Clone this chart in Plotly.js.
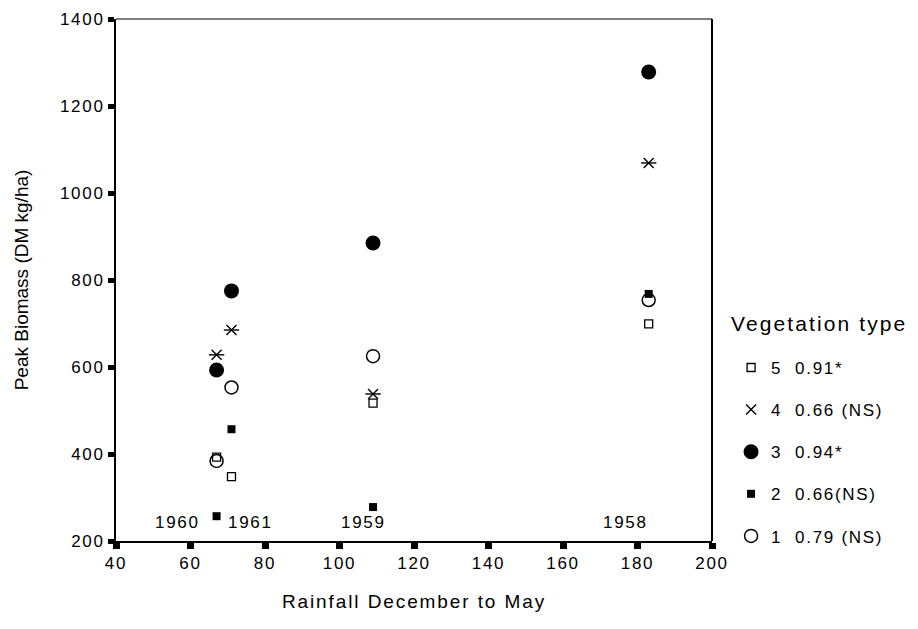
<!DOCTYPE html>
<html>
<head>
<meta charset="utf-8">
<script src="https://cdn.plot.ly/plotly-3.0.1.min.js"></script>
<style>
html,body{margin:0;padding:0;background:#fff;}
#chart{width:918px;height:629px;}
svg text{letter-spacing:0.1em;}
svg text.ytitle{letter-spacing:0;}
</style>
</head>
<body>
<div id="chart"></div>
<script>
// Rainfall (x) for each year's column
var rainfall = [67, 71, 109, 183];
var years = ["1960", "1961", "1959", "1958"];
var yearLabelX = [56.4, 76.2, 106.5, 176.7];
var yearLabelY = 242;

// Peak biomass per vegetation type, in the order of rainfall above
var veg5 = [393, 348, 517, 699];
var veg4 = [628, 685, 538, 1069];
var veg3 = [593, 775, 885, 1278];
var veg2 = [257, 457, 278, 768];
var veg1 = [384, 553, 625, 754];

var legendTitle = "Vegetation type";
var legendNames = ["5  0.91*", "4  0.66 (NS)", "3  0.94*", "2  0.66(NS)", "1  0.79 (NS)"];

var font = "Liberation Sans, Arial, Helvetica, sans-serif";

function tr(y, name, symbol, size, lw, grp, show) {
  return {
    type: "scatter", mode: "markers", x: rainfall, y: y, name: name,
    legendgroup: grp, showlegend: show,
    marker: {symbol: symbol, size: size, color: "#000", line: {color: "#000", width: lw}},
    cliponaxis: false, hoverinfo: "x+y"
  };
}

var data = [
  tr(veg5, legendNames[0], "square-open", 8, 1.3, "g5", true),
  tr(veg4, legendNames[1], "line-ew-open", 11, 1.4, "g4", false),
  tr(veg4, legendNames[1], "x-thin-open", 10, 1.4, "g4", true),
  tr(veg3, legendNames[2], "circle", 15, 0, "g3", true),
  tr(veg2, legendNames[3], "square", 8, 0, "g2", true),
  tr(veg1, legendNames[4], "circle-open", 13, 1.5, "g1", true)
];

var annotations = years.map(function (t, i) {
  return {x: yearLabelX[i], y: yearLabelY, xref: "x", yref: "y", text: t,
    showarrow: false, font: {family: font, size: 17, color: "#000"}};
});
annotations.push({
  x: 1.0285, y: (541 - 323) / 522, xref: "paper", yref: "paper", xanchor: "left", yanchor: "middle",
  text: legendTitle, showarrow: false, font: {family: font, size: 21, color: "#000"}
});

var layout = {
  width: 918, height: 629,
  margin: {l: 116, r: 206, t: 19, b: 88},
  paper_bgcolor: "#fff", plot_bgcolor: "#fff",
  showlegend: true,
  legend: {
    x: 1.032, y: 0.366, xanchor: "left", yanchor: "top",
    traceorder: "grouped", tracegroupgap: 17,
    font: {family: font, size: 17, color: "#000"},
    itemsizing: "trace"
  },
  xaxis: {
    range: [40, 200], tickvals: [40, 60, 80, 100, 120, 140, 160, 180, 200],
    showgrid: false, zeroline: false, showline: true, linewidth: 2, linecolor: "#000",
    ticks: "outside", ticklen: 6, tickwidth: 7, tickcolor: "#000",
    tickfont: {family: font, size: 17, color: "#000"},
    title: {text: "Rainfall December to May", standoff: 22, font: {family: font, size: 19, color: "#000"}}
  },
  yaxis: {
    range: [200, 1400], tickvals: [200, 400, 600, 800, 1000, 1200, 1400],
    showgrid: false, zeroline: false, showline: true, linewidth: 2, linecolor: "#000",
    ticks: "outside", ticklen: 6, tickwidth: 5, tickcolor: "#000",
    tickfont: {family: font, size: 17, color: "#000"},
    title: {text: "Peak Biomass (DM kg/ha)", standoff: 26, font: {family: font, size: 19, color: "#000"}}
  },
  shapes: [
    {type: "line", xref: "paper", yref: "paper", x0: 0, x1: 1, y0: 1, y1: 1, line: {color: "#000", width: 1}},
    {type: "line", xref: "paper", yref: "paper", x0: 1, x1: 1, y0: 0, y1: 1, line: {color: "#000", width: 2}}
  ],
  annotations: annotations
};

Plotly.newPlot("chart", data, layout, {displayModeBar: false, staticPlot: true});
</script>
</body>
</html>
